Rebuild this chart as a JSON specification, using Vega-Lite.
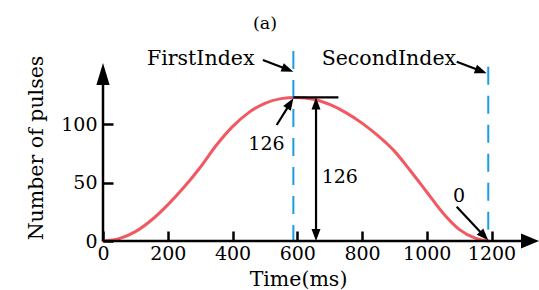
{
  "$schema": "https://vega.github.io/schema/vega-lite/v6.json",
  "width": 436,
  "height": 241,
  "autosize": {"type": "none"},
  "padding": {"left": 103, "top": 0, "right": 0, "bottom": 49},
  "background": "white",
  "config": {"view": {"stroke": null}, "font": "DejaVu Serif"},
  "datasets": {
    "curve": [
      {"t": 0, "n": 0}, {"t": 50, "n": 2}, {"t": 100, "n": 8}, {"t": 150, "n": 18},
      {"t": 200, "n": 31}, {"t": 250, "n": 46}, {"t": 300, "n": 63}, {"t": 350, "n": 82},
      {"t": 400, "n": 98}, {"t": 450, "n": 110}, {"t": 500, "n": 118}, {"t": 550, "n": 122},
      {"t": 595, "n": 123}, {"t": 650, "n": 121.5}, {"t": 700, "n": 117}, {"t": 750, "n": 110},
      {"t": 800, "n": 101}, {"t": 850, "n": 90}, {"t": 900, "n": 77}, {"t": 950, "n": 60},
      {"t": 1000, "n": 42}, {"t": 1050, "n": 24}, {"t": 1100, "n": 10}, {"t": 1150, "n": 2.5},
      {"t": 1190, "n": 0}
    ],
    "vlines": [{"t": 588, "top": 162.8}, {"t": 1190, "top": 149.4}],
    "axislines": [
      {"x1": 0, "y1": 0, "x2": 1300, "y2": 0},
      {"x1": 0, "y1": 0, "x2": 0, "y2": 143}
    ],
    "shafts": [
      {"x1": 493.8, "y1": 155.1, "x2": 570.7, "y2": 147.0},
      {"x1": 1092.5, "y1": 153.6, "x2": 1167.7, "y2": 145.6},
      {"x1": 536.5, "y1": 99.4, "x2": 578.2, "y2": 117.9},
      {"x1": 1092.5, "y1": 29.4, "x2": 1177.3, "y2": 4.3},
      {"x1": 658, "y1": 5, "x2": 658, "y2": 118.3},
      {"x1": 588, "y1": 123, "x2": 727, "y2": 123}
    ],
    "headYaxis": [{"x": 0, "y": 152.5}],
    "headXaxis": [{"x": 1346.7, "y": 0}],
    "headIndex": [{"x": 588, "y": 145.1}, {"x": 1185, "y": 143.7}],
    "headPeak": [{"x": 588, "y": 122.3}],
    "headZero": [{"x": 1190, "y": 0.6}],
    "headUp": [{"x": 658, "y": 123}],
    "headDown": [{"x": 658, "y": 0}],
    "words": [
      {"x": 135.9, "y": 150.8, "label": "FirstIndex"},
      {"x": 675.5, "y": 150.8, "label": "SecondIndex"}
    ],
    "digits": [
      {"x": 448.8, "y": 78, "label": "126"},
      {"x": 675.5, "y": 49.7, "label": "126"},
      {"x": 1081, "y": 33.8, "label": "0"}
    ],
    "title": [{"x": 463.4, "y": 181.4, "label": "(a)"}]
  },
  "layer": [
    {
      "data": {"name": "curve"},
      "mark": {"type": "line", "color": "#ee3b47", "strokeWidth": 3, "opacity": 0.85, "interpolate": "monotone", "strokeCap": "round"},
      "encoding": {
        "x": {
          "field": "t", "type": "quantitative",
          "scale": {"domain": [0, 1346.7], "nice": false, "zero": false},
          "axis": {
            "values": [0, 200, 400, 600, 800, 1000, 1200], "format": "d",
            "domain": false, "grid": false,
            "ticks": true, "tickSize": -10, "tickWidth": 2.5, "tickColor": "black",
            "labelPadding": 13, "labelFont": "DejaVu Serif", "labelFontSize": 19, "labelColor": "black",
            "labelFlush": false, "labelOverlap": false,
            "title": "Time(ms)", "titleFont": "DejaVu Serif", "titleFontSize": 20.5,
            "titleFontWeight": "normal", "titleColor": "black",
            "titleX": 195, "titleY": 44, "titleBaseline": "alphabetic", "titleAlign": "center"
          }
        },
        "y": {
          "field": "n", "type": "quantitative",
          "scale": {"domain": [0, 206.5], "nice": false},
          "axis": {
            "values": [0, 50, 100], "format": "d",
            "domain": false, "grid": false,
            "ticks": true, "tickSize": -10, "tickWidth": 2.5, "tickColor": "black",
            "labelPadding": 16, "labelFont": "DejaVu Serif", "labelFontSize": 19, "labelColor": "black",
            "labelFlush": false, "labelOverlap": false,
            "title": "Number of pulses", "titleFont": "DejaVu Serif", "titleFontSize": 20.5,
            "titleFontWeight": "normal", "titleColor": "black", "titleAngle": -90,
            "titleX": -61, "titleY": 147.5, "titleBaseline": "alphabetic", "titleAlign": "center"
          }
        }
      }
    },
    {
      "data": {"name": "vlines"},
      "mark": {"type": "rule", "color": "#1b9de2", "strokeWidth": 2, "strokeDash": [18, 11]},
      "encoding": {
        "x": {"field": "t", "type": "quantitative"},
        "y": {"field": "top", "type": "quantitative"},
        "y2": {"datum": 0}
      }
    },
    {
      "data": {"name": "axislines"},
      "mark": {"type": "rule", "color": "black", "strokeWidth": 2.5},
      "encoding": {
        "x": {"field": "x1", "type": "quantitative"},
        "y": {"field": "y1", "type": "quantitative"},
        "x2": {"field": "x2"},
        "y2": {"field": "y2"}
      }
    },
    {
      "data": {"name": "shafts"},
      "mark": {"type": "rule", "color": "black", "strokeWidth": 2.2},
      "encoding": {
        "x": {"field": "x1", "type": "quantitative"},
        "y": {"field": "y1", "type": "quantitative"},
        "x2": {"field": "x2"},
        "y2": {"field": "y2"}
      }
    },
    {
      "data": {"name": "headYaxis"},
      "mark": {"type": "point", "shape": "M0,0L-0.3,1L0.3,1Z", "size": 1936, "filled": true, "color": "black", "opacity": 1, "strokeWidth": 0, "angle": 0},
      "encoding": {"x": {"field": "x", "type": "quantitative"}, "y": {"field": "y", "type": "quantitative"}}
    },
    {
      "data": {"name": "headXaxis"},
      "mark": {"type": "point", "shape": "M0,0L-0.42,1L0.42,1Z", "size": 1296, "filled": true, "color": "black", "opacity": 1, "strokeWidth": 0, "angle": 90},
      "encoding": {"x": {"field": "x", "type": "quantitative"}, "y": {"field": "y", "type": "quantitative"}}
    },
    {
      "data": {"name": "headIndex"},
      "mark": {"type": "point", "shape": "M0,0L-0.375,1L0.375,1Z", "size": 576, "filled": true, "color": "black", "opacity": 1, "strokeWidth": 0, "angle": 111},
      "encoding": {"x": {"field": "x", "type": "quantitative"}, "y": {"field": "y", "type": "quantitative"}}
    },
    {
      "data": {"name": "headPeak"},
      "mark": {"type": "point", "shape": "M0,0L-0.375,1L0.375,1Z", "size": 576, "filled": true, "color": "black", "opacity": 1, "strokeWidth": 0, "angle": 32},
      "encoding": {"x": {"field": "x", "type": "quantitative"}, "y": {"field": "y", "type": "quantitative"}}
    },
    {
      "data": {"name": "headZero"},
      "mark": {"type": "point", "shape": "M0,0L-0.375,1L0.375,1Z", "size": 576, "filled": true, "color": "black", "opacity": 1, "strokeWidth": 0, "angle": 136.5},
      "encoding": {"x": {"field": "x", "type": "quantitative"}, "y": {"field": "y", "type": "quantitative"}}
    },
    {
      "data": {"name": "headUp"},
      "mark": {"type": "point", "shape": "M0,0L-0.375,1L0.375,1Z", "size": 576, "filled": true, "color": "black", "opacity": 1, "strokeWidth": 0, "angle": 0},
      "encoding": {"x": {"field": "x", "type": "quantitative"}, "y": {"field": "y", "type": "quantitative"}}
    },
    {
      "data": {"name": "headDown"},
      "mark": {"type": "point", "shape": "M0,0L-0.375,1L0.375,1Z", "size": 576, "filled": true, "color": "black", "opacity": 1, "strokeWidth": 0, "angle": 180},
      "encoding": {"x": {"field": "x", "type": "quantitative"}, "y": {"field": "y", "type": "quantitative"}}
    },
    {
      "data": {"name": "words"},
      "mark": {"type": "text", "font": "DejaVu Serif", "fontSize": 20.5, "color": "black", "align": "left", "baseline": "alphabetic"},
      "encoding": {"x": {"field": "x", "type": "quantitative"}, "y": {"field": "y", "type": "quantitative"}, "text": {"field": "label"}}
    },
    {
      "data": {"name": "digits"},
      "mark": {"type": "text", "font": "DejaVu Serif", "fontSize": 19, "color": "black", "align": "left", "baseline": "alphabetic"},
      "encoding": {"x": {"field": "x", "type": "quantitative"}, "y": {"field": "y", "type": "quantitative"}, "text": {"field": "label"}}
    },
    {
      "data": {"name": "title"},
      "mark": {"type": "text", "font": "DejaVu Serif", "fontSize": 17.5, "color": "black", "align": "left", "baseline": "alphabetic"},
      "encoding": {"x": {"field": "x", "type": "quantitative"}, "y": {"field": "y", "type": "quantitative"}, "text": {"field": "label"}}
    }
  ]
}
